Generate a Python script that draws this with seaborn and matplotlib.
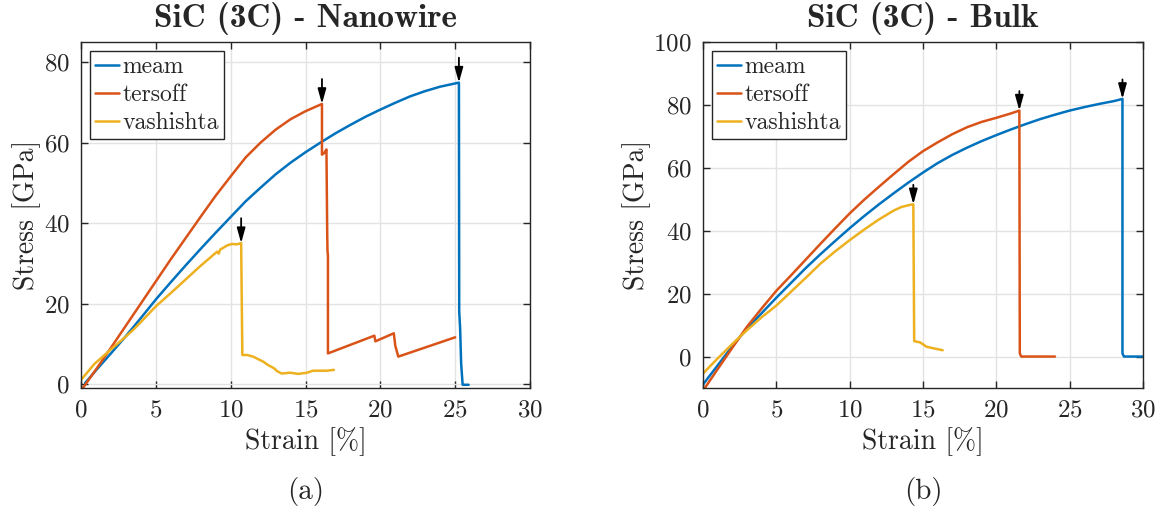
import numpy as np
import pandas as pd
import matplotlib
matplotlib.use("Agg")
import matplotlib.pyplot as plt
import seaborn as sns

# ---------------- data: SiC (3C) nanowire ----------------
nw_meam_strain = [0.27, 1, 2, 3, 4, 5, 6, 7, 8, 9, 10, 11, 12, 13, 14, 15, 16, 17, 18, 19,
                  20, 21, 22, 23, 24, 25.25, 25.27, 25.33, 25.4, 25.5, 25.9]
nw_meam_stress = [0.2, 3.4, 7.6, 11.9, 16.4, 21.0, 25.3, 29.5, 33.6, 37.6, 41.5, 45.4, 48.8,
                  52.1, 55.0, 57.6, 60.0, 62.3, 64.4, 66.4, 68.2, 69.9, 71.5, 72.8, 73.9, 74.9,
                  18.0, 14.0, 5.0, -0.2, -0.2]

nw_tersoff_strain = [0.13, 1, 2, 3, 4, 5, 6, 7, 8, 9, 10, 11, 12, 13, 14, 15, 16.1,
                     16.1, 16.25, 16.4, 16.45, 16.47, 16.5, 16.5, 19.6, 19.67, 20.9, 21.0,
                     21.2, 25.0]
nw_tersoff_stress = [-1.0, 3.6, 9.0, 14.5, 20.0, 25.5, 31.0, 36.3, 41.6, 46.8, 51.6, 56.3, 60.0,
                     63.2, 65.8, 67.8, 69.6,
                     57.0, 57.4, 58.3, 37.5, 33.0, 32.0, 7.6, 12.0, 10.6, 12.6, 9.5,
                     6.8, 11.6]

nw_vash_strain = [0.0, 0.9, 2.0, 3.0, 3.5, 4.0, 5.0, 6.0, 7.0, 8.0, 9.1, 9.2, 9.3, 9.8, 10.1,
                  10.4, 10.7, 10.78, 11.1, 11.5, 12.2, 12.5, 12.9, 13.1, 13.4, 13.96, 14.5,
                  15.1, 15.5, 16.4, 16.9]
nw_vash_stress = [1.0, 5.0, 8.6, 11.8, 13.5, 15.4, 19.3, 22.6, 26.0, 29.4, 32.9, 32.4, 33.4,
                  34.5, 34.8, 34.7, 35.0, 7.2, 7.2, 6.8, 5.5, 4.7, 3.9, 3.2, 2.6, 2.8, 2.5,
                  2.8, 3.3, 3.3, 3.5]

# ---------------- data: SiC (3C) bulk ----------------
bk_meam_strain = [0, 1, 2, 3, 4, 5, 6, 7, 8, 9, 10, 11, 12, 13, 14, 15, 16, 17, 18, 19, 20,
                  21, 22, 23, 24, 25, 26, 27, 28, 28.6, 28.6, 28.7, 30.5]
bk_meam_stress = [-8.9, -2.8, 3.3, 8.9, 13.8, 18.7, 23.4, 28.1, 32.5, 36.7, 40.8, 44.7, 48.4,
                  51.9, 55.3, 58.5, 61.5, 64.1, 66.4, 68.5, 70.4, 72.2, 73.9, 75.5, 76.9, 78.2,
                  79.3, 80.3, 81.2, 81.9, 1.0, 0.0, 0.0]

bk_tersoff_strain = [0.14, 1, 2, 3, 4, 5, 6, 7, 8, 9, 10, 11, 12, 13, 14, 15, 16, 17, 18, 19,
                     20, 21, 21.57, 21.6, 21.7, 24.0]
bk_tersoff_stress = [-9.9, -4.0, 2.8, 9.5, 15.3, 20.9, 25.8, 30.8, 35.8, 40.7, 45.5, 49.9, 54.0,
                     58.0, 61.9, 65.3, 68.1, 70.7, 72.9, 74.6, 75.9, 77.3, 78.2, 1.0, 0.0, 0.0]

bk_vash_strain = [0, 1, 2, 3, 4, 5, 6, 7, 8, 9, 10, 11, 12, 12.5, 13, 13.5, 14, 14.34,
                  14.4, 14.8, 15.25, 16.34]
bk_vash_stress = [-5.4, -0.6, 4.0, 8.4, 12.5, 16.2, 20.6, 25.0, 29.5, 33.4, 37.0, 40.4, 43.6,
                  45.0, 46.4, 47.5, 48.1, 48.4, 4.9, 4.5, 3.1, 2.0]

potentials = ["meam", "tersoff", "vashishta"]
colors = ["#0072BD", "#D95319", "#EDB120"]

panels = [
    dict(title="SiC (3C) - Nanowire", tag="(a)",
         series=[(nw_meam_strain, nw_meam_stress),
                 (nw_tersoff_strain, nw_tersoff_stress),
                 (nw_vash_strain, nw_vash_stress)],
         ylim=(-1, 85), yticks=[0, 20, 40, 60, 80]),
    dict(title="SiC (3C) - Bulk", tag="(b)",
         series=[(bk_meam_strain, bk_meam_stress),
                 (bk_tersoff_strain, bk_tersoff_stress),
                 (bk_vash_strain, bk_vash_stress)],
         ylim=(-10, 100), yticks=[0, 20, 40, 60, 80, 100]),
]
xticks = [0, 5, 10, 15, 20, 25, 30]
arrow_len = 6.2

# ---------------- style ----------------
sns.set_style("ticks")
plt.rcParams.update({
    "font.family": ["cmr10", "DejaVu Serif"],
    "mathtext.fontset": "cm",
    "axes.unicode_minus": False,
    "axes.formatter.use_mathtext": True,
    "axes.edgecolor": "#262626",
    "axes.linewidth": 1.0,
    "xtick.direction": "in",
    "ytick.direction": "in",
    "xtick.color": "#262626",
    "ytick.color": "#262626",
})

fig = plt.figure(figsize=(11.62, 5.17), dpi=100)
axes_rects = [
    [81 / 1162, 1 - 388 / 517, 449 / 1162, 346 / 517],
    [703 / 1162, 1 - 388 / 517, 440 / 1162, 346 / 517],
]

for rect, panel in zip(axes_rects, panels):
    ax = fig.add_axes(rect)
    for name, color, (sx, sy) in zip(potentials, colors, panel["series"]):
        df = pd.DataFrame({"strain": sx, "stress": sy})
        sns.lineplot(data=df, x="strain", y="stress", sort=False, estimator=None,
                     color=color, linewidth=1.8, label=name, ax=ax, zorder=3)
    # arrows marking the fracture point of each potential
    for sx, sy in panel["series"]:
        i = int(np.argmax(sy))
        ax.annotate("", xy=(sx[i], sy[i]), xytext=(sx[i], sy[i] + arrow_len),
                    arrowprops=dict(arrowstyle="-|>,head_width=0.25,head_length=0.9",
                                    color="black", lw=1.3, shrinkA=0, shrinkB=0),
                    zorder=5)

    ax.set_xlim(0, 30)
    ax.set_ylim(*panel["ylim"])
    ax.set_xticks(xticks)
    ax.set_yticks(panel["yticks"])
    ax.grid(True, color="#E3E3E3", linewidth=1.0, zorder=0)
    ax.set_axisbelow(True)
    ax.tick_params(axis="both", which="both", top=True, right=True, length=5,
                   width=1.0, labelsize=18, pad=8)
    for sp in ax.spines.values():
        sp.set_visible(True)
        sp.set_zorder(6)

    ax.set_xlabel("Strain [%]", fontsize=20, labelpad=4)
    ax.set_ylabel("Stress [GPa]", fontsize=20, labelpad=2)
    ax.set_title(panel["title"], fontsize=24, fontfamily="cmb10", pad=10.5)

    leg = ax.legend(loc="upper left", fontsize=17, frameon=True, fancybox=False,
                    handlelength=1.0, handletextpad=0.15, borderpad=0.2,
                    labelspacing=0.25, borderaxespad=0.4)
    leg.get_frame().set_edgecolor("#262626")
    leg.get_frame().set_linewidth(1.0)
    leg.get_frame().set_alpha(1.0)

    fig.text(rect[0] + rect[2] / 2, 1 - 492 / 517, panel["tag"], ha="center",
             va="center", fontsize=21)

fig.savefig("out.png", dpi=100)
